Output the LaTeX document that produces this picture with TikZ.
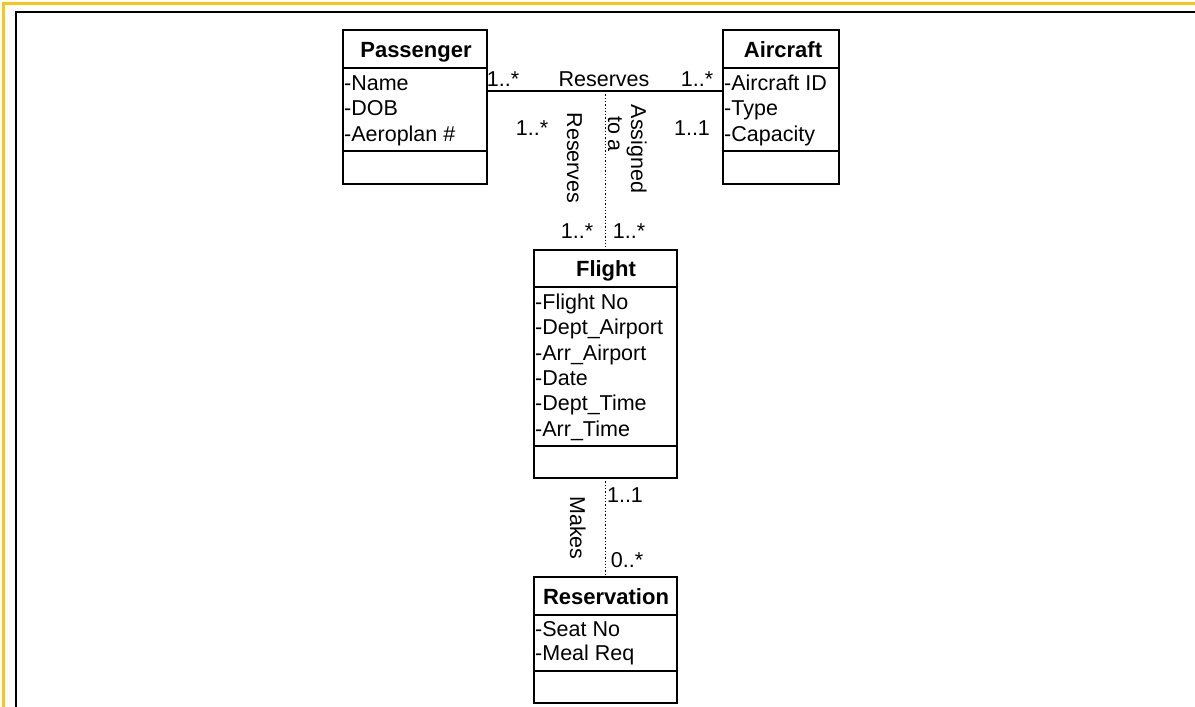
\documentclass[tikz,border=0pt]{standalone}
\usepackage{fontspec}
\setmainfont{Liberation Sans}
\definecolor{frameyellow}{RGB}{250,196,24}
\begin{document}
\begin{tikzpicture}[x=1pt,y=-1pt,
  box/.style={draw=black,line width=1.6pt,anchor=north west,inner sep=0pt,outer sep=0pt},
  ctitle/.style={font=\fontsize{22}{26}\selectfont\bfseries,inner sep=0pt,anchor=base},
  attr/.style={font=\fontsize{21.5}{25}\selectfont,anchor=base west,inner sep=0pt},
  lbl/.style={font=\fontsize{21.5}{25}\selectfont,inner sep=0pt,anchor=base},
  vlbl/.style={lbl,rotate=-90},
  sepline/.style={line width=1.6pt},
  assocline/.style={line width=1.3pt},
  dotline/.style={line width=1.3pt,dotted}]
\useasboundingbox (0,0) rectangle (1195,707);
% frame
\draw[frameyellow,line width=3pt] (3.5,707) -- (3.5,3.5) -- (1195,3.5);
\draw[black,line width=2pt] (16,707) -- (16,12.3) -- (1195,12.3);

% Passenger
\node[box,minimum width=144pt,minimum height=154pt] (pass) at (343,30) {};
\draw[sepline] (pass.west |- 0,68) -- (pass.east |- 0,68);
\draw[sepline] (pass.west |- 0,151) -- (pass.east |- 0,151);
\node[ctitle] (passT) at (416,57) {Passenger};
\node[attr] (passA1) at (344,90) {-Name};
\node[attr] (passA2) at (344,115.5) {-DOB};
\node[attr] (passA3) at (344,141) {-Aeroplan \#};

% Aircraft
\node[box,minimum width=116pt,minimum height=154pt] (air) at (723,30) {};
\draw[sepline] (air.west |- 0,68) -- (air.east |- 0,68);
\draw[sepline] (air.west |- 0,151) -- (air.east |- 0,151);
\node[ctitle] (airT) at (783,57) {Aircraft};
\node[attr] (airA1) at (724,90) {-Aircraft ID};
\node[attr] (airA2) at (724,115.5) {-Type};
\node[attr] (airA3) at (724,141) {-Capacity};

% Flight
\node[box,minimum width=143pt,minimum height=228pt] (flight) at (534,250) {};
\draw[sepline] (flight.west |- 0,287) -- (flight.east |- 0,287);
\draw[sepline] (flight.west |- 0,446) -- (flight.east |- 0,446);
\node[ctitle] (flightT) at (606,276.5) {Flight};
\node[attr] (flA1) at (535,309.5) {-Flight No};
\node[attr] (flA2) at (535,334.8) {-Dept\_Airport};
\node[attr] (flA3) at (535,360.1) {-Arr\_Airport};
\node[attr] (flA4) at (535,385.4) {-Date};
\node[attr] (flA5) at (535,410.7) {-Dept\_Time};
\node[attr] (flA6) at (535,436) {-Arr\_Time};

% Reservation
\node[box,minimum width=143pt,minimum height=126pt] (res) at (534,577) {};
\draw[sepline] (res.west |- 0,615) -- (res.east |- 0,615);
\draw[sepline] (res.west |- 0,671) -- (res.east |- 0,671);
\node[ctitle] (resT) at (606,604) {Reservation};
\node[attr] (resA1) at (535,636) {-Seat No};
\node[attr] (resA2) at (535,660.5) {-Meal Req};

% connectors
\coordinate (junc) at (flight.north |- 0,91);
\draw[assocline] (pass.east |- junc) -- (air.west |- junc);
\draw[dotline] (junc) -- (flight.north);
\draw[dotline] (flight.south) -- (res.north);

% labels
\node[lbl] (l1) at (503,86) {1..*};
\node[lbl] (l2) at (604,86) {Reserves};
\node[lbl] (l3) at (697,86) {1..*};
\node[lbl] (l4) at (532,135) {1..*};
\node[lbl] (l5) at (692,135) {1..1};
\node[vlbl] (l6) at (567,158) {Reserves};
\node[vlbl] (l7) at (631,149) {Assigned};
\node[vlbl] (l8) at (608,134) {to a};
\node[lbl] (l9) at (577,238) {1..*};
\node[lbl] (l10) at (629,238) {1..*};
\node[vlbl] (l11) at (570,528) {Makes};
\node[lbl] (l12) at (625,502) {1..1};
\node[lbl] (l13) at (627,567) {0..*};
\end{tikzpicture}
\end{document}
